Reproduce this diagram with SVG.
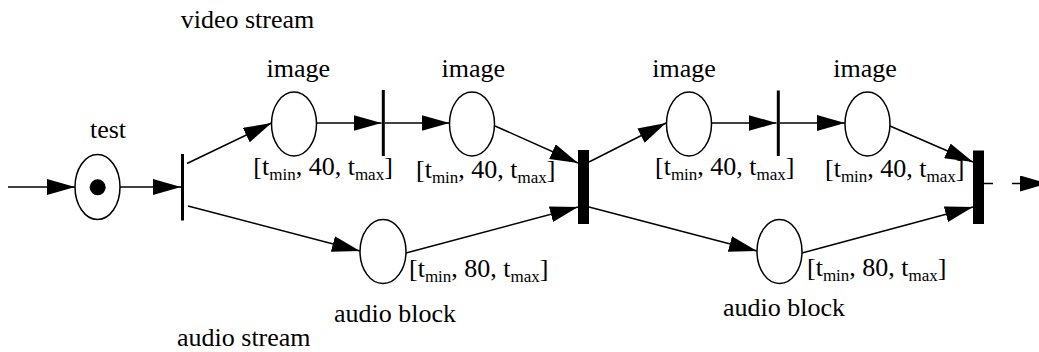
<svg xmlns="http://www.w3.org/2000/svg" width="1039" height="352" viewBox="0 0 1039 352">
<style>
text{font-family:"Liberation Serif","Times New Roman",serif;font-size:26px;fill:#000}
.sub{font-size:17px}
.place{fill:#fff;stroke:#000;stroke-width:1.5}
.arc{stroke:#000;stroke-width:1.5;fill:none}
.arrow{marker-end:url(#ah)}
</style>
<defs>
<marker id="ah" viewBox="0 0 28 16" refX="28" refY="8" markerWidth="28" markerHeight="16" markerUnits="userSpaceOnUse" orient="auto">
<path d="M0,0 L28,8 L0,16 z" fill="#000"/>
</marker>
</defs>
<rect width="1039" height="352" fill="#fff"/>
<g id="connectors">
<line class="arc arrow" x1="8" y1="187" x2="75" y2="187"/>
<line class="arc arrow" x1="120" y1="187" x2="181" y2="187"/>
<line class="arc arrow" x1="187" y1="163.5" x2="271.5" y2="123"/>
<line class="arc arrow" x1="316.5" y1="123" x2="381.5" y2="123"/>
<line class="arc arrow" x1="385" y1="123" x2="449.5" y2="123"/>
<line class="arc arrow" x1="495" y1="126" x2="578" y2="163"/>
<line class="arc arrow" x1="188" y1="206" x2="360" y2="251"/>
<line class="arc arrow" x1="406" y1="253" x2="578" y2="207"/>
<line class="arc arrow" x1="589" y1="162" x2="666" y2="123"/>
<line class="arc arrow" x1="589" y1="207" x2="757" y2="251"/>
<line class="arc arrow" x1="711.5" y1="123" x2="776.5" y2="123"/>
<line class="arc arrow" x1="780" y1="123" x2="845" y2="123"/>
<line class="arc arrow" x1="890" y1="126" x2="973" y2="162"/>
<line class="arc arrow" x1="802" y1="253" x2="973" y2="207"/>
<line class="arc" x1="984" y1="183.5" x2="993" y2="183.5"/>
<line class="arc arrow" x1="1012" y1="183.5" x2="1048" y2="183.5"/>
</g>
<g id="test">
<ellipse class="place" cx="97.5" cy="187" rx="22.5" ry="32.5"/>
<circle cx="97.7" cy="187.3" r="8" fill="#000"/>
<text x="108" y="138" text-anchor="middle">test</text>
</g>
<g id="t0"><rect x="181" y="154" width="3" height="66.5" fill="#000"/></g>
<g id="image1">
<ellipse class="place" cx="294" cy="124" rx="22.5" ry="32"/>
<text x="298.3" y="76.7" text-anchor="middle">image</text>
<text x="253.3" y="175">[t<tspan class="sub" dy="5">min</tspan><tspan dy="-5">, 40, t</tspan><tspan class="sub" dy="5">max</tspan><tspan dy="-5">]</tspan></text>
</g>
<g id="t1"><rect x="381.8" y="90" width="3" height="66" fill="#000"/></g>
<g id="image2">
<ellipse class="place" cx="472" cy="124" rx="22.5" ry="32"/>
<text x="473.3" y="76.7" text-anchor="middle">image</text>
<text x="416" y="178">[t<tspan class="sub" dy="5">min</tspan><tspan dy="-5">, 40, t</tspan><tspan class="sub" dy="5">max</tspan><tspan dy="-5">]</tspan></text>
</g>
<g id="audio1">
<ellipse class="place" cx="383" cy="251.5" rx="23" ry="32"/>
<text x="409" y="277">[t<tspan class="sub" dy="5">min</tspan><tspan dy="-5">, 80, t</tspan><tspan class="sub" dy="5">max</tspan><tspan dy="-5">]</tspan></text>
<text x="395" y="321.5" text-anchor="middle">audio block</text>
</g>
<g id="sync1"><rect x="578" y="150" width="11" height="74" fill="#000"/></g>
<g id="image3">
<ellipse class="place" cx="689" cy="124" rx="22.5" ry="32"/>
<text x="684" y="76.7" text-anchor="middle">image</text>
<text x="655" y="174.5">[t<tspan class="sub" dy="5">min</tspan><tspan dy="-5">, 40, t</tspan><tspan class="sub" dy="5">max</tspan><tspan dy="-5">]</tspan></text>
</g>
<g id="t2"><rect x="776.8" y="90.5" width="3" height="65.5" fill="#000"/></g>
<g id="image4">
<ellipse class="place" cx="867.5" cy="124" rx="22.5" ry="32"/>
<text x="865" y="76.7" text-anchor="middle">image</text>
<text x="825" y="177">[t<tspan class="sub" dy="5">min</tspan><tspan dy="-5">, 40, t</tspan><tspan class="sub" dy="5">max</tspan><tspan dy="-5">]</tspan></text>
</g>
<g id="audio2">
<ellipse class="place" cx="779.5" cy="251.5" rx="22.5" ry="32"/>
<text x="807" y="276">[t<tspan class="sub" dy="5">min</tspan><tspan dy="-5">, 80, t</tspan><tspan class="sub" dy="5">max</tspan><tspan dy="-5">]</tspan></text>
<text x="784" y="316" text-anchor="middle">audio block</text>
</g>
<g id="sync2"><rect x="973" y="150.5" width="11" height="73.5" fill="#000"/></g>
<g id="stream-labels">
<text x="180.7" y="28">video stream</text>
<text x="177" y="346">audio stream</text>
</g>
</svg>
